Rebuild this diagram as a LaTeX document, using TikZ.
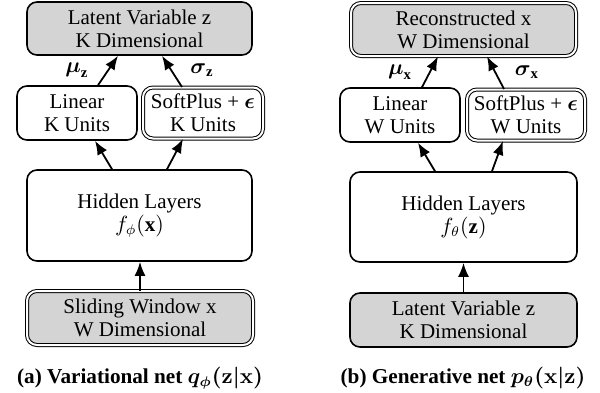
\documentclass[tikz,border=0pt]{standalone}
\usepackage{amsmath}
\usepackage{fontspec}
\setmainfont{Liberation Serif}
\usetikzlibrary{arrows.meta}
\definecolor{boxgray}{RGB}{212,212,212}
\begin{document}
\begin{tikzpicture}[x=0.5pt,y=-0.5pt,
  box/.style={draw, line width=0.8pt, rounded corners=5pt, align=center,
    font=\fontsize{10.5}{11.5}\selectfont, inner sep=0pt},
  dbl/.style={box, double, double distance=1pt, line width=0.5pt},
  shaded/.style={fill=boxgray},
  arr/.style={-{Latex[length=7pt,width=5.5pt]}, line width=0.9pt},
  lbl/.style={font=\fontsize{10.5}{11.5}\selectfont, inner sep=0pt},
  captext/.style={font=\fontsize{10.6}{11.5}\selectfont\bfseries\boldmath, inner sep=0pt}]
\useasboundingbox (0,0) rectangle (600,392);
% left panel
\node[box, shaded, minimum width=112.5pt, minimum height=26.5pt] (lz) at (139.5,28.5) {Latent Variable z\\K Dimensional};
\node[box, minimum width=60pt, minimum height=27pt] (lin) at (77,113) {Linear\\K Units};
\node[dbl, minimum width=60pt, minimum height=25.5pt] (sp) at (203,113) {SoftPlus + $\boldsymbol{\epsilon}$\\K Units};
\node[box, minimum width=112.5pt, minimum height=45.5pt] (hid) at (139.5,215.5) {Hidden Layers\\$f_{\phi}(\mathbf{x})$};
\node[dbl, shaded, minimum width=113pt, minimum height=27pt] (sw) at (140,318) {Sliding Window x\\W Dimensional};
\node[captext] (capa) at (140,378) {(a) Variational net $q_{\phi}(\mathbf{z}|\mathbf{x})$};
\node[lbl] (muz) at (77,70) {$\boldsymbol{\mu}_{\mathbf{z}}$};
\node[lbl] (sigz) at (202,70) {$\boldsymbol{\sigma}_{\mathbf{z}}$};
\draw[arr] ([xshift=10.5pt]lin.north) -- ([xshift=-10.75pt]lz.south);
\draw[arr] ([xshift=-10.5pt]sp.north) -- ([xshift=11.25pt]lz.south);
\draw[arr] ([xshift=-13.75pt]hid.north) -- ([xshift=9pt]lin.south);
\draw[arr] ([xshift=13.75pt]hid.north) -- ([xshift=-10pt]sp.south);
\draw[arr] (sw.north) -- (sw.north |- hid.south);
% right panel
\node[dbl, shaded, minimum width=112.5pt, minimum height=26.5pt] (rx) at (463.5,29.5) {Reconstructed x\\W Dimensional};
\node[box, minimum width=60pt, minimum height=27pt] (rlin) at (400,115) {Linear\\W Units};
\node[dbl, minimum width=59pt, minimum height=25.5pt] (rsp) at (526,115) {SoftPlus + $\boldsymbol{\epsilon}$\\W Units};
\node[box, minimum width=113.5pt, minimum height=45pt] (rhid) at (463.5,217) {Hidden Layers\\$f_{\theta}(\mathbf{z})$};
\node[box, shaded, minimum width=113.5pt, minimum height=27pt] (rz) at (463.5,320) {Latent Variable z\\K Dimensional};
\node[captext] (capb) at (463,378) {(b) Generative net $p_{\theta}(\mathbf{x}|\mathbf{z})$};
\node[lbl] (mux) at (400,72) {$\boldsymbol{\mu}_{\mathbf{x}}$};
\node[lbl] (sigx) at (527,72) {$\boldsymbol{\sigma}_{\mathbf{x}}$};
\draw[arr] ([xshift=11pt]rlin.north) -- ([xshift=-12.75pt]rx.south);
\draw[arr] ([xshift=-11pt]rsp.north) -- ([xshift=11.75pt]rx.south);
\draw[arr] ([xshift=-14.25pt]rhid.north) -- ([xshift=9pt]rlin.south);
\draw[arr] ([xshift=14.25pt]rhid.north) -- ([xshift=-11.5pt]rsp.south);
\draw[arr] (rz.north) -- (rz.north |- rhid.south);
\end{tikzpicture}
\end{document}
